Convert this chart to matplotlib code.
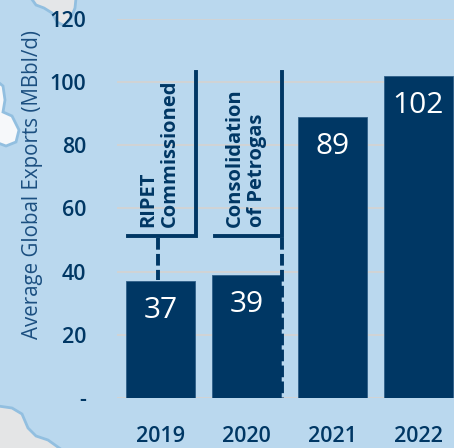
import matplotlib
matplotlib.use("Agg")
import matplotlib.pyplot as plt
from matplotlib.patches import Polygon

years = ["2019", "2020", "2021", "2022"]
exports = [37, 39, 89, 102]
y_ticks = [0, 20, 40, 60, 80, 100, 120]
y_tick_labels = ["-", "20", "40", "60", "80", "100", "120"]

navy = "#003764"
sea = "#BAD8EE"
W, H = 454, 448

plt.rcParams["font.family"] = ["Open Sans", "DejaVu Sans"]
plt.rcParams["font.stretch"] = "normal"

fig = plt.figure(figsize=(W / 100, H / 100), dpi=100, facecolor=sea)

# fond de carte, en pixels de l'image
bg = fig.add_axes([0, 0, 1, 1], zorder=0)
bg.set_xlim(0, W)
bg.set_ylim(H, 0)
bg.axis("off")
land = [
    ([(31, -2), (36, 5), (44, 8), (52, 13), (57, 22), (65, 26), (71, 18), (75, 8), (76, -2)], "#E4E6E8"),
    ([(-2, 82), (3, 86), (5, 100), (3, 112), (12, 116), (19, 130), (16, 142), (6, 146), (-2, 143)], "#F6F8FA"),
    ([(-2, 406), (12, 408), (22, 414), (28, 428), (36, 436), (48, 440), (62, 450), (-2, 450)], "#E4E5E6"),
]
for pts, col in land:
    bg.add_patch(Polygon(pts, closed=True, fc=col, ec="#92BFE0", lw=2))

ax = fig.add_axes([117 / W, (H - 398) / H, (W - 117) / W, (398 - 19) / H], zorder=1)
ax.patch.set_alpha(0)
x = range(len(years))
bars = ax.bar(x, exports, width=0.8, color=navy, edgecolor="#2F5F88", linewidth=0.6, zorder=3)

ax.set_xlim(-0.504, 3.415)
ax.set_ylim(0, 120)
ax.set_yticks(y_ticks, y_tick_labels)
ax.set_xticks(list(x), years)
ax.yaxis.grid(True, color="#D3D3D3", lw=1.3, zorder=1)
ax.set_axisbelow(True)
for s in ax.spines.values():
    s.set_visible(False)
ax.tick_params(length=0, labelcolor=navy, labelsize=15.5)
ax.tick_params(axis="y", pad=22)
ax.tick_params(axis="x", pad=20)
for lab in ax.get_xticklabels() + ax.get_yticklabels():
    lab.set_fontweight("semibold")

fig.text(33 / W, 1 - 184.5 / H, "Average Global Exports (MBbl/d)", rotation=90, color="#1B4F80",
         fontsize=14.8, ha="center", va="center")

for bar, val in zip(bars, exports):
    ax.annotate(str(val), (bar.get_x() + bar.get_width() / 2, val), xytext=(0, -11),
                textcoords="offset points", ha="center", va="top", color="white", fontsize=21.5, zorder=5)

# annotations
top = fig.add_axes([0, 0, 1, 1], zorder=2)
top.set_xlim(0, W)
top.set_ylim(H, 0)
top.axis("off")
top.plot([128, 195.5, 195.5], [236, 236, 72], color=navy, lw=2.8, solid_joinstyle="miter")
top.plot([157.5, 157.5], [238, 280], color=navy, lw=2.8, ls=(0, (3.0, 1.1)))
top.plot([215, 281.5, 281.5], [236, 236, 72], color=navy, lw=2.8, solid_joinstyle="miter")
top.plot([281.5, 281.5], [238, 398], color=navy, lw=2.8, ls=(0, (3.0, 1.1)))
top.text(159, 227, "RIPET\nCommissioned", rotation=90, color=navy, fontsize=14.5, fontweight="bold",
         ha="center", va="bottom", linespacing=1.15, multialignment="left")
top.text(246, 227, "Consolidation\nof Petrogas", rotation=90, color=navy, fontsize=14.5, fontweight="bold",
         ha="center", va="bottom", linespacing=1.15, multialignment="left")

fig.savefig("out.png", dpi=100, facecolor=sea)
